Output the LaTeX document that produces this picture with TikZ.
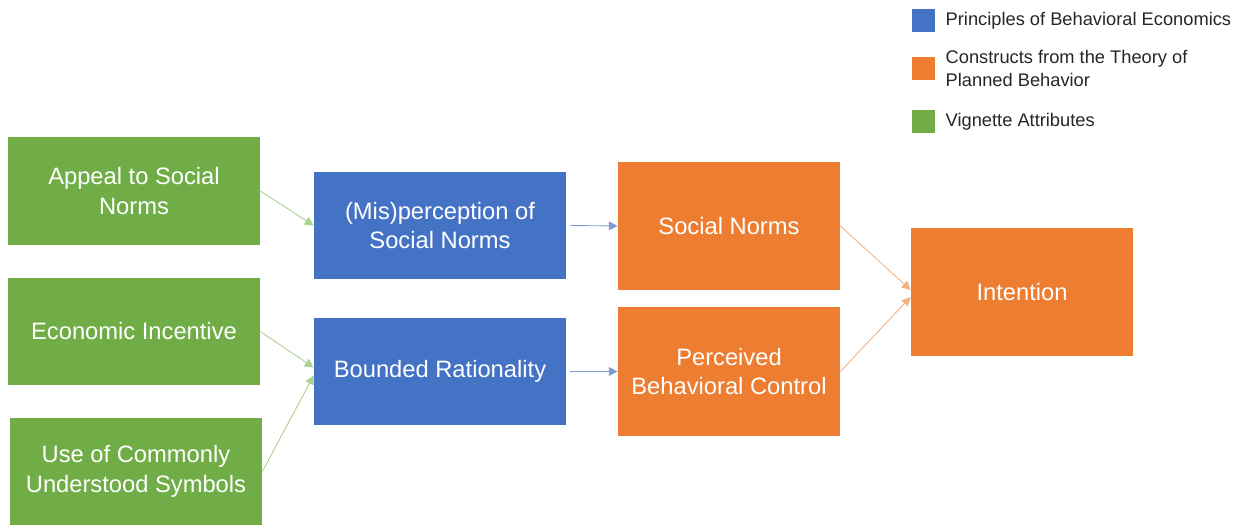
\documentclass[tikz,border=0pt]{standalone}
\usepackage{fontspec}
\setmainfont{Liberation Sans}
\usepackage{xcolor}
\usetikzlibrary{arrows.meta, positioning}

\definecolor{vigGreen}{HTML}{70AD47}
\definecolor{beBlue}{HTML}{4472C4}
\definecolor{tpbOrange}{HTML}{ED7D31}
\definecolor{vigArrow}{HTML}{A9D18E}
\definecolor{beArrow}{HTML}{7F9BD1}
\definecolor{tpbArrow}{HTML}{F4B183}
\definecolor{legendText}{HTML}{262626}

\begin{document}
\begin{tikzpicture}[
  box/.style={draw=none, align=center, text=white, inner sep=2pt,
    font=\fontsize{13.5}{17}\selectfont},
  widebox/.style={box, minimum width=5.04cm, minimum height=2.14cm},
  tpbbox/.style={box, fill=tpbOrange, minimum width=4.44cm, minimum height=2.57cm},
  link/.style={line width=0.5pt, -{Triangle[length=5pt,width=5pt]}},
  legendkey/.style={minimum size=0.46cm, inner sep=0pt},
  legendlabel/.style={anchor=west, align=left, text=legendText, inner sep=0pt,
    font=\fontsize{10.4}{13.6}\selectfont}
]
\useasboundingbox (0,0) rectangle (24.88,10.5);

% Vignette attributes
\node[widebox, fill=vigGreen] (appeal) at (2.68, 6.68) {Appeal to Social\\Norms};
\node[widebox, fill=vigGreen] (incentive) at (2.68, 3.87) {Economic Incentive};
\node[widebox, fill=vigGreen] (symbols) at (2.72, 1.07) {Use of Commonly\\Understood Symbols};

% Behavioral economics
\node[widebox, fill=beBlue] (misperc) at (8.8, 5.99) {(Mis)perception of\\Social Norms};
\node[widebox, fill=beBlue] (bounded) at (8.8, 3.07) {Bounded Rationality};

% Theory of planned behavior
\node[tpbbox] (norms) at (14.58, 5.98) {Social Norms};
\node[tpbbox] (pbc) at (14.58, 3.07) {Perceived\\Behavioral Control};
\node[tpbbox] (intention) at (20.44, 4.66) {Intention};

% Arrows
\draw[link, vigArrow] (appeal.east) -- (misperc.west);
\draw[link, vigArrow] (incentive.east) -- ([yshift=0.08cm]bounded.west);
\draw[link, vigArrow] (symbols.east) -- ([yshift=-0.08cm]bounded.west);
\draw[link, beArrow] ([xshift=0.08cm]misperc.east) -- (norms.west);
\draw[link, beArrow] ([xshift=0.08cm]bounded.east) -- (pbc.west);
\draw[link, tpbArrow] (norms.east) -- ([yshift=0.04cm]intention.west);
\draw[link, tpbArrow] (pbc.east) -- ([yshift=-0.1cm]intention.west);

% Legend
\node[legendkey, fill=beBlue] (keyBE) at (18.47, 10.08) {};
\node[legendkey, fill=tpbOrange] (keyTPB) at (18.47, 9.13) {};
\node[legendkey, fill=vigGreen] (keyVig) at (18.47, 8.07) {};
\node[legendlabel, right=0.2cm of keyBE] (labBE) {Principles of Behavioral Economics};
\node[legendlabel, right=0.2cm of keyTPB] (labTPB) {Constructs from the Theory of\\Planned Behavior};
\node[legendlabel, right=0.2cm of keyVig] (labVig) {Vignette Attributes};

\end{tikzpicture}
\end{document}
